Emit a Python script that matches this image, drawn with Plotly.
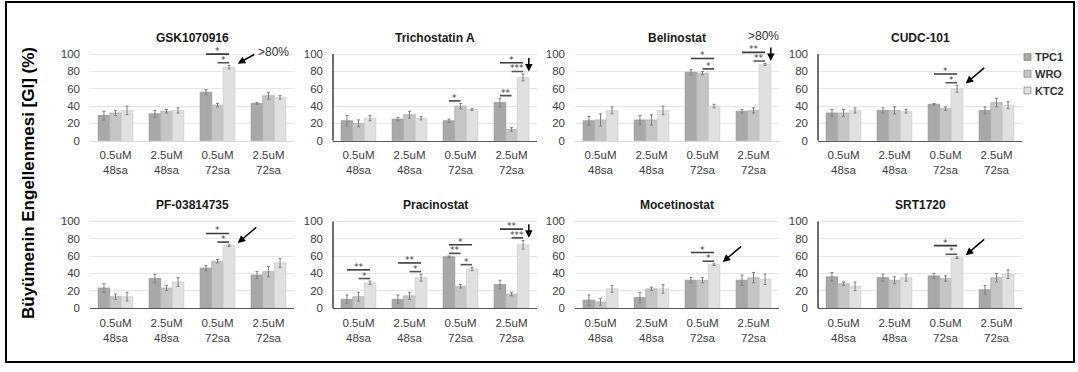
import plotly.graph_objects as go
from plotly.subplots import make_subplots

# ---- data -------------------------------------------------------------
categories = ["0.5uM<br>48sa", "2.5uM<br>48sa", "0.5uM<br>72sa", "2.5uM<br>72sa"]
series_names = ["TPC1", "WRO", "KTC2"]
drugs = ["GSK1070916", "Trichostatin A", "Belinostat", "CUDC-101",
         "PF-03814735", "Pracinostat", "Mocetinostat", "SRT1720"]

# growth inhibition (%) per drug, one list per cell line (TPC1, WRO, KTC2)
gsk_tpc1, gsk_wro, gsk_ktc2 = [29, 31, 56, 43], [32, 34, 41, 52], [35, 35, 85, 50]
tsa_tpc1, tsa_wro, tsa_ktc2 = [23, 25, 23, 44], [20, 30, 40, 13], [26, 26, 36, 73]
bel_tpc1, bel_wro, bel_ktc2 = [23, 24, 79, 34], [24, 24, 78, 35], [35, 35, 40, 88]
cudc_tpc1, cudc_wro, cudc_ktc2 = [32, 35, 42, 35], [32, 35, 37, 44], [35, 34, 60, 41]
pf_tpc1, pf_wro, pf_ktc2 = [23, 34, 46, 38], [13, 23, 54, 42], [13, 30, 72, 52]
pra_tpc1, pra_wro, pra_ktc2 = [10, 10, 59, 27], [13, 14, 25, 16], [29, 35, 45, 73]
moc_tpc1, moc_wro, moc_ktc2 = [9, 12, 32, 32], [7, 22, 32, 35], [22, 22, 50, 33]
srt_tpc1, srt_wro, srt_ktc2 = [36, 35, 37, 21], [28, 32, 34, 35], [25, 35, 58, 39]

# standard deviations, same layout as above
gsk_tpc1_sd, gsk_wro_sd, gsk_ktc2_sd = [5, 4, 3, 1], [3, 2, 2, 4], [5, 3, 2, 2]
tsa_tpc1_sd, tsa_wro_sd, tsa_ktc2_sd = [6, 2, 2, 5], [4, 4, 3, 2], [3, 2, 1, 4]
bel_tpc1_sd, bel_wro_sd, bel_ktc2_sd = [5, 5, 3, 2], [7, 6, 2, 3], [4, 5, 2, 1]
cudc_tpc1_sd, cudc_wro_sd, cudc_ktc2_sd = [4, 3, 1, 4], [4, 4, 2, 5], [3, 2, 4, 4]
pf_tpc1_sd, pf_wro_sd, pf_ktc2_sd = [5, 5, 3, 4], [3, 3, 2, 6], [5, 5, 1, 5]
pra_tpc1_sd, pra_wro_sd, pra_ktc2_sd = [5, 5, 1, 5], [5, 4, 2, 2], [2, 4, 2, 5]
moc_tpc1_sd, moc_wro_sd, moc_ktc2_sd = [6, 6, 3, 6], [4, 2, 3, 6], [4, 5, 1, 6]
srt_tpc1_sd, srt_wro_sd, srt_ktc2_sd = [5, 4, 3, 5], [2, 4, 3, 5], [5, 4, 1, 5]

values = [
    [gsk_tpc1, gsk_wro, gsk_ktc2], [tsa_tpc1, tsa_wro, tsa_ktc2],
    [bel_tpc1, bel_wro, bel_ktc2], [cudc_tpc1, cudc_wro, cudc_ktc2],
    [pf_tpc1, pf_wro, pf_ktc2], [pra_tpc1, pra_wro, pra_ktc2],
    [moc_tpc1, moc_wro, moc_ktc2], [srt_tpc1, srt_wro, srt_ktc2],
]
errors = [
    [gsk_tpc1_sd, gsk_wro_sd, gsk_ktc2_sd], [tsa_tpc1_sd, tsa_wro_sd, tsa_ktc2_sd],
    [bel_tpc1_sd, bel_wro_sd, bel_ktc2_sd], [cudc_tpc1_sd, cudc_wro_sd, cudc_ktc2_sd],
    [pf_tpc1_sd, pf_wro_sd, pf_ktc2_sd], [pra_tpc1_sd, pra_wro_sd, pra_ktc2_sd],
    [moc_tpc1_sd, moc_wro_sd, moc_ktc2_sd], [srt_tpc1_sd, srt_wro_sd, srt_ktc2_sd],
]

# significance brackets: (drug, condition, from line, to line, label, tier)
brackets = [
    (0, 2, 0, 2, "*", 1), (0, 2, 1, 2, "*", 0),
    (1, 2, 0, 1, "*", 0),
    (1, 3, 0, 1, "**", 0), (1, 3, 1, 2, "***", 0), (1, 3, 0, 2, "*", 1),
    (2, 2, 0, 2, "*", 1), (2, 2, 1, 2, "*", 0),
    (2, 3, 0, 2, "**", 1), (2, 3, 1, 2, "**", 0),
    (3, 2, 0, 2, "*", 1), (3, 2, 1, 2, "*", 0),
    (4, 2, 0, 2, "*", 1), (4, 2, 1, 2, "*", 0),
    (5, 0, 0, 2, "**", 1), (5, 0, 1, 2, "*", 0),
    (5, 1, 0, 2, "**", 1), (5, 1, 1, 2, "*", 0),
    (5, 2, 0, 1, "**", 0), (5, 2, 1, 2, "*", 0), (5, 2, 0, 2, "*", 1),
    (5, 3, 0, 2, "**", 1), (5, 3, 1, 2, "***", 0),
    (6, 2, 0, 2, "*", 1), (6, 2, 1, 2, "*", 0),
    (7, 2, 0, 2, "*", 1), (7, 2, 1, 2, "*", 0),
]
# highlighted KTC2 responses: (drug, condition, arrow style, note)
highlights = [
    (0, 2, "diag", ">80%"), (1, 3, "down", ""), (2, 3, "down", ">80%"),
    (3, 2, "diag", ""), (4, 2, "diag", ""), (5, 3, "down", ""),
    (6, 2, "diag", ""), (7, 2, "diag", ""),
]

# ---- styling ----------------------------------------------------------
W, H = 1078, 372
series_colors = ["#a8a8a8", "#c5c5c5", "#e0e0e0"]
series_edges = ["#979797", "#b3b3b3", "#cfcfcf"]
BARGAP = 0.32
BW = (1 - BARGAP) / 3
YMAX = 125
col_px = [(90, 294), (333, 537), (575, 779), (818, 1022)]
row_zero_px = [143, 313]
PX_PER_UNIT = 0.88
dark_frame = [False, True, False, True, True, True, True, True]
left_line = [False, True, False, True, False, True, False, True]
FONT = "Liberation Sans, Arial, sans-serif"

fig = make_subplots(rows=2, cols=4)

for d in range(8):
    r, c = d // 4, d % 4
    for s in range(3):
        fig.add_trace(
            go.Bar(
                x=list(range(4)), y=values[d][s], name=series_names[s],
                marker=dict(color=series_colors[s],
                            line=dict(color=series_edges[s], width=0.8)),
                error_y=dict(type="data", array=errors[d][s], color="#808080",
                             thickness=1, width=1.5),
                showlegend=False,
            ),
            row=r + 1, col=c + 1,
        )

fig.update_layout(
    width=W, height=H, margin=dict(l=0, r=0, t=0, b=0),
    paper_bgcolor="white", plot_bgcolor="white",
    barmode="group", bargap=BARGAP, bargroupgap=0,
    font=dict(family=FONT, color="#595959", size=11),
)

shapes, annotations = [], []

for d in range(8):
    r, c = d // 4, d % 4
    k = "" if d == 0 else str(d + 1)
    x0, x1 = col_px[c]
    z = row_zero_px[r]
    top = z - YMAX * PX_PER_UNIT
    fig.layout["xaxis" + k].update(
        domain=[x0 / W, x1 / W], range=[-0.5, 3.5],
        tickvals=list(range(4)), ticktext=categories,
        showgrid=False, zeroline=False, showline=True,
        linecolor="#595959" if dark_frame[d] else "#d9d9d9", linewidth=1,
        ticks="", ticklabelstandoff=4,
        tickfont=dict(size=11.5, color="#404040"),
    )
    fig.layout["yaxis" + k].update(
        domain=[1 - z / H, 1 - top / H], range=[0, YMAX],
        tickvals=[0, 20, 40, 60, 80, 100], showgrid=True, gridcolor="#e6e6e6",
        gridwidth=1, zeroline=False, showline=False, ticks="",
        ticklabelstandoff=9, tickfont=dict(size=11.5, color="#404040"),
    )
    xr, yr = "x" + k, "y" + k
    if left_line[d]:
        shapes.append(dict(type="line", xref=xr + " domain", yref=yr,
                           x0=0, x1=0, y0=0, y1=100,
                           line=dict(color="#404040", width=1.5)))
    # panel title
    annotations.append(dict(
        text="<b>" + drugs[d] + "</b>", xref="paper", yref="paper",
        x=(x0 + x1) / 2 / W, y=1 - (z - 118.5 * PX_PER_UNIT) / H,
        showarrow=False, font=dict(size=12, color="#1a1a1a"),
        xanchor="center", yanchor="middle",
    ))

# significance brackets
for d, cat, a, b, label, tier in brackets:
    k = "" if d == 0 else str(d + 1)
    tops = [values[d][s][cat] + errors[d][s][cat] for s in range(a, b + 1)]
    yline = max(tops) + 3 + 10 * tier
    xa = cat + (a - 1) * BW
    xb = cat + (b - 1) * BW
    shapes.append(dict(type="line", xref="x" + k, yref="y" + k,
                       x0=xa, x1=xb, y0=yline, y1=yline,
                       line=dict(color="#3a3a3a" if tier else "#555555",
                                 width=1.6)))
    annotations.append(dict(text=label, xref="x" + k, yref="y" + k,
                            x=(xa + xb) / 2, y=yline, showarrow=False,
                            yanchor="bottom", yshift=-4,
                            font=dict(size=9, color="#404040",
                                      family="DejaVu Sans, sans-serif")))

# arrows on the strongest KTC2 responses
for d, cat, style, note in highlights:
    k = "" if d == 0 else str(d + 1)
    bar_top = values[d][2][cat] + errors[d][2][cat]
    if style == "diag":
        hx, hy = cat + BW * 1.75, bar_top + 2
        ax, ay = (18, -10) if note else (20, -17)
    else:
        hx, hy = cat + BW * 1.5, bar_top + 3
        ax, ay = 0, -15
    annotations.append(dict(
        text="", xref="x" + k, yref="y" + k, x=hx, y=hy,
        showarrow=True, ax=ax, ay=ay, arrowhead=2, arrowsize=1,
        arrowwidth=1.5, arrowcolor="#000000", standoff=0,
    ))
    if note:
        if style == "diag":
            annotations.append(dict(
                text=note, xref="x" + k, yref="y" + k, x=hx, y=hy,
                showarrow=False, xanchor="left", yanchor="middle",
                xshift=ax, yshift=-ay + 2,
                font=dict(size=12, color="#333333")))
        else:
            annotations.append(dict(
                text=note, xref="x" + k, yref="y" + k, x=hx, y=hy,
                showarrow=False, xanchor="center", yanchor="bottom",
                xshift=-7, yshift=-ay + 1,
                font=dict(size=12, color="#333333")))

# legend
for s, name in enumerate(series_names):
    yc = 58 + 17 * s
    shapes.append(dict(type="rect", xref="paper", yref="paper",
                       x0=1024 / W, x1=1031 / W,
                       y0=1 - (yc + 3.5) / H, y1=1 - (yc - 3.5) / H,
                       fillcolor=series_colors[s],
                       line=dict(color="#8c8c8c", width=0.8)))
    annotations.append(dict(text="<b>" + name + "</b>", xref="paper",
                            yref="paper", x=1033 / W, y=1 - yc / H,
                            xanchor="left", yanchor="middle", showarrow=False,
                            font=dict(size=11, color="#333333")))

# shared y-axis title
annotations.append(dict(
    text="<b>Büyümenin Engellenmesi [GI] (%)</b>", xref="paper", yref="paper",
    x=28 / W, y=1 - 186 / H, textangle=-90, showarrow=False,
    xanchor="center", yanchor="middle",
    font=dict(size=17, color="#000000"),
))

# outer frame
shapes.append(dict(type="rect", xref="paper", yref="paper",
                   x0=6 / W, x1=1074 / W, y0=1 - 368 / H, y1=1 - 2 / H,
                   line=dict(color="#000000", width=2)))

fig.update_layout(shapes=shapes, annotations=annotations)
fig.write_html("out.html")
